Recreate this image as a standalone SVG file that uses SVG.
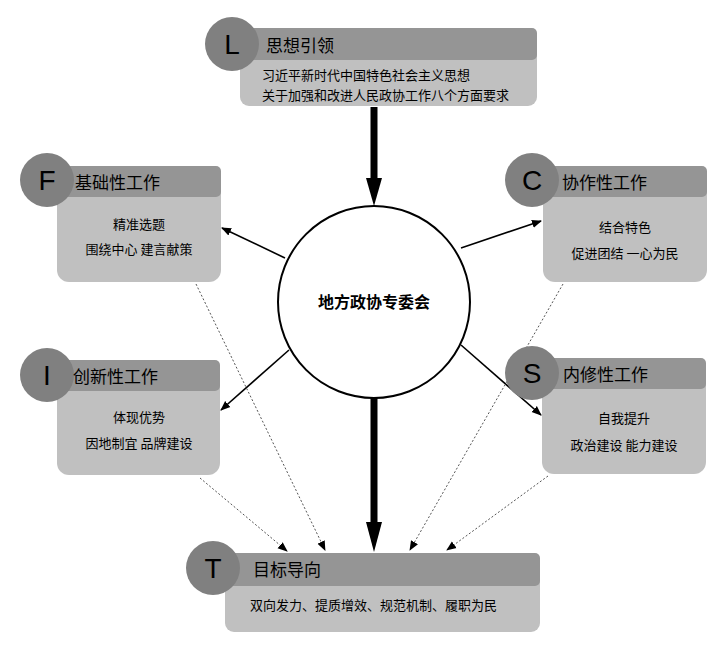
<svg xmlns="http://www.w3.org/2000/svg" width="725" height="653" viewBox="0 0 725 653">
<style>
text{font-family:"Noto Sans CJK SC","Liberation Sans",sans-serif;fill:#000}
.body{fill:#c0c0c0}
.head{fill:#959595}
.circ{fill:#808080}
.letter{font-family:"Liberation Sans",sans-serif;font-size:28px;text-anchor:middle}
.ht{font-size:17px}
.bt{font-size:13px}
.ct{text-anchor:middle}
.thin{stroke:#000;stroke-width:1.6;fill:none;marker-end:url(#a)}
.dot{stroke:#555;stroke-width:1;stroke-dasharray:2 2;fill:none;marker-end:url(#a)}
.thick{stroke:#000;stroke-width:7;fill:none}
</style>
<defs>
<marker id="a" viewBox="0 0 10 10" refX="9" refY="5" markerWidth="10" markerHeight="10" markerUnits="userSpaceOnUse" orient="auto"><path d="M0,1 L10,5 L0,9 Z" fill="#000"/></marker>
</defs>
<rect width="725" height="653" fill="#fff"/>
<g id="connectors">
<line class="thick" x1="374" y1="107" x2="374" y2="180"/>
<path d="M366,178 L382,178 L374,206 Z"/>
<line class="thick" x1="374" y1="398" x2="374" y2="525"/>
<path d="M366,522 L382,522 L374,552 Z"/>
<line class="thin" x1="285" y1="258" x2="222" y2="228"/>
<line class="thin" x1="461" y1="248" x2="541" y2="221"/>
<line class="thin" x1="289" y1="350" x2="221" y2="410"/>
<line class="thin" x1="461" y1="345" x2="541" y2="415"/>
<line class="dot" x1="196" y1="284" x2="325" y2="550"/>
<line class="dot" x1="200" y1="478" x2="287" y2="551"/>
<line class="dot" x1="563" y1="284" x2="410" y2="550"/>
<line class="dot" x1="548" y1="476" x2="447" y2="550"/>
</g>
<g id="center">
<circle cx="374" cy="302" r="96" fill="#fff" stroke="#000" stroke-width="2"/>
<text x="374" y="308" class="ct" font-size="16" font-weight="bold">地方政协专委会</text>
</g>
<g id="L">
<rect class="body" x="240" y="28" width="297" height="78" rx="9"/>
<rect class="head" x="240" y="28" width="297" height="32" rx="5"/>
<circle class="circ" cx="232" cy="44" r="27"/>
<text class="letter" x="232" y="54">L</text>
<text class="ht" x="266" y="52">思想引领</text>
<text class="bt" x="262" y="80">习近平新时代中国特色社会主义思想</text>
<text class="bt" x="262" y="100">关于加强和改进人民政协工作八个方面要求</text>
</g>
<g id="F">
<rect class="body" x="57" y="166" width="164" height="116" rx="12"/>
<rect class="head" x="57" y="166" width="164" height="31" rx="5"/>
<circle class="circ" cx="47" cy="180" r="27"/>
<text class="letter" x="47" y="190">F</text>
<text class="ht" x="75" y="189">基础性工作</text>
<text class="bt ct" x="139" y="229">精准选题</text>
<text class="bt ct" x="139" y="254">围绕中心  建言献策</text>
</g>
<g id="C">
<rect class="body" x="543" y="166" width="164" height="116" rx="12"/>
<rect class="head" x="543" y="166" width="164" height="31" rx="5"/>
<circle class="circ" cx="532" cy="180" r="27"/>
<text class="letter" x="532" y="190">C</text>
<text class="ht" x="562" y="189">协作性工作</text>
<text class="bt ct" x="625" y="232">结合特色</text>
<text class="bt ct" x="625" y="258">促进团结  一心为民</text>
</g>
<g id="I">
<rect class="body" x="57" y="360" width="163" height="115" rx="12"/>
<rect class="head" x="57" y="360" width="163" height="31" rx="5"/>
<circle class="circ" cx="47" cy="375" r="27"/>
<text class="letter" x="47" y="385">I</text>
<text class="ht" x="73" y="383">创新性工作</text>
<text class="bt ct" x="139" y="422">体现优势</text>
<text class="bt ct" x="139" y="448">因地制宜  品牌建设</text>
</g>
<g id="S">
<rect class="body" x="542" y="358" width="164" height="116" rx="12"/>
<rect class="head" x="542" y="358" width="164" height="31" rx="5"/>
<circle class="circ" cx="532" cy="373" r="27"/>
<text class="letter" x="532" y="383">S</text>
<text class="ht" x="563" y="381">内修性工作</text>
<text class="bt ct" x="624" y="423">自我提升</text>
<text class="bt ct" x="624" y="450">政治建设  能力建设</text>
</g>
<g id="T">
<rect class="body" x="225" y="553" width="315" height="79" rx="9"/>
<rect class="head" x="225" y="553" width="315" height="33" rx="5"/>
<circle class="circ" cx="213" cy="568" r="27"/>
<text class="letter" x="213" y="578">T</text>
<text class="ht" x="253" y="576">目标导向</text>
<text class="bt" x="250" y="610">双向发力、提质增效、规范机制、履职为民</text>
</g>
</svg>
